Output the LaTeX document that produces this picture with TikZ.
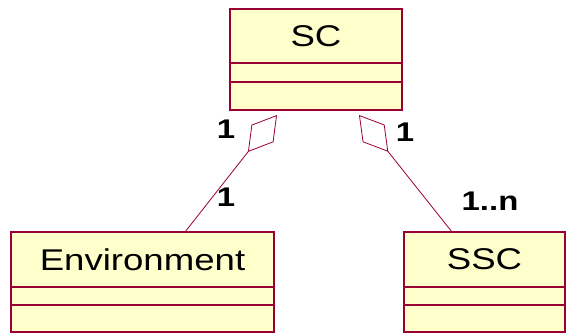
\documentclass[tikz,border=0pt]{standalone}
\usepackage{fontspec}
\setmainfont{Liberation Sans}
\newfontfamily\classfont[FakeStretch=1.22]{Liberation Sans}
\usetikzlibrary{arrows.meta,positioning}
\definecolor{umlline}{RGB}{153,0,51}
\definecolor{umlfill}{RGB}{255,255,204}
\tikzset{
  basic/.style  = {draw=umlline, fill=umlfill, line width=1.2pt, rectangle, inner sep=0pt, outer sep=0pt},
  ctitle/.style = {basic, font=\classfont\fontsize{30}{36}\selectfont},
  cpart/.style  = {basic},
  mult/.style   = {font=\classfont\bfseries\fontsize{27}{32}\selectfont, inner sep=0pt},
  aggr/.style   = {draw=umlline, line width=0.8pt, -{Diamond[open, length=47pt, width=28pt, line width=0.8pt]}}
}

\begin{document}
\begin{tikzpicture}[x=1pt,y=-1pt]
\useasboundingbox (0,0) rectangle (566,334);
% classes
\node[ctitle, minimum width=172pt, minimum height=54pt] (sc) at (316,36) {SC};
\node[cpart, minimum width=172pt, minimum height=19pt, below=0pt of sc] (sc attr) {};
\node[cpart, minimum width=172pt, minimum height=28pt, below=0pt of sc attr] (sc ops) {};

\node[ctitle, minimum width=263pt, minimum height=55pt] (env) at (142.5,259.5) {Environment};
\node[cpart, minimum width=263pt, minimum height=18pt, below=0pt of env] (env attr) {};
\node[cpart, minimum width=263pt, minimum height=27pt, below=0pt of env attr] (env ops) {};

\node[ctitle, minimum width=161pt, minimum height=55pt] (ssc) at (484.5,259.5) {SSC};
\node[cpart, minimum width=161pt, minimum height=18pt, below=0pt of ssc] (ssc attr) {};
\node[cpart, minimum width=161pt, minimum height=27pt, below=0pt of ssc attr] (ssc ops) {};

% aggregations
\coordinate (sc left) at ([xshift=-39pt,yshift=-5pt]sc ops.south);
\coordinate (sc right) at ([xshift=43pt,yshift=-5pt]sc ops.south);
\coordinate (env top) at ([xshift=42.5pt]env.north);
\coordinate (ssc top) at ([xshift=-32.5pt]ssc.north);
\draw[aggr] (env top) -- (sc left);
\draw[aggr] (ssc top) -- (sc right);

\node[mult] (m sc env) at (226,129) {1};
\node[mult] (m env) at (226,197) {1};
\node[mult] (m sc ssc) at (405,132) {1};
\node[mult] (m ssc) at (490,201) {1..n};
\end{tikzpicture}
\end{document}
